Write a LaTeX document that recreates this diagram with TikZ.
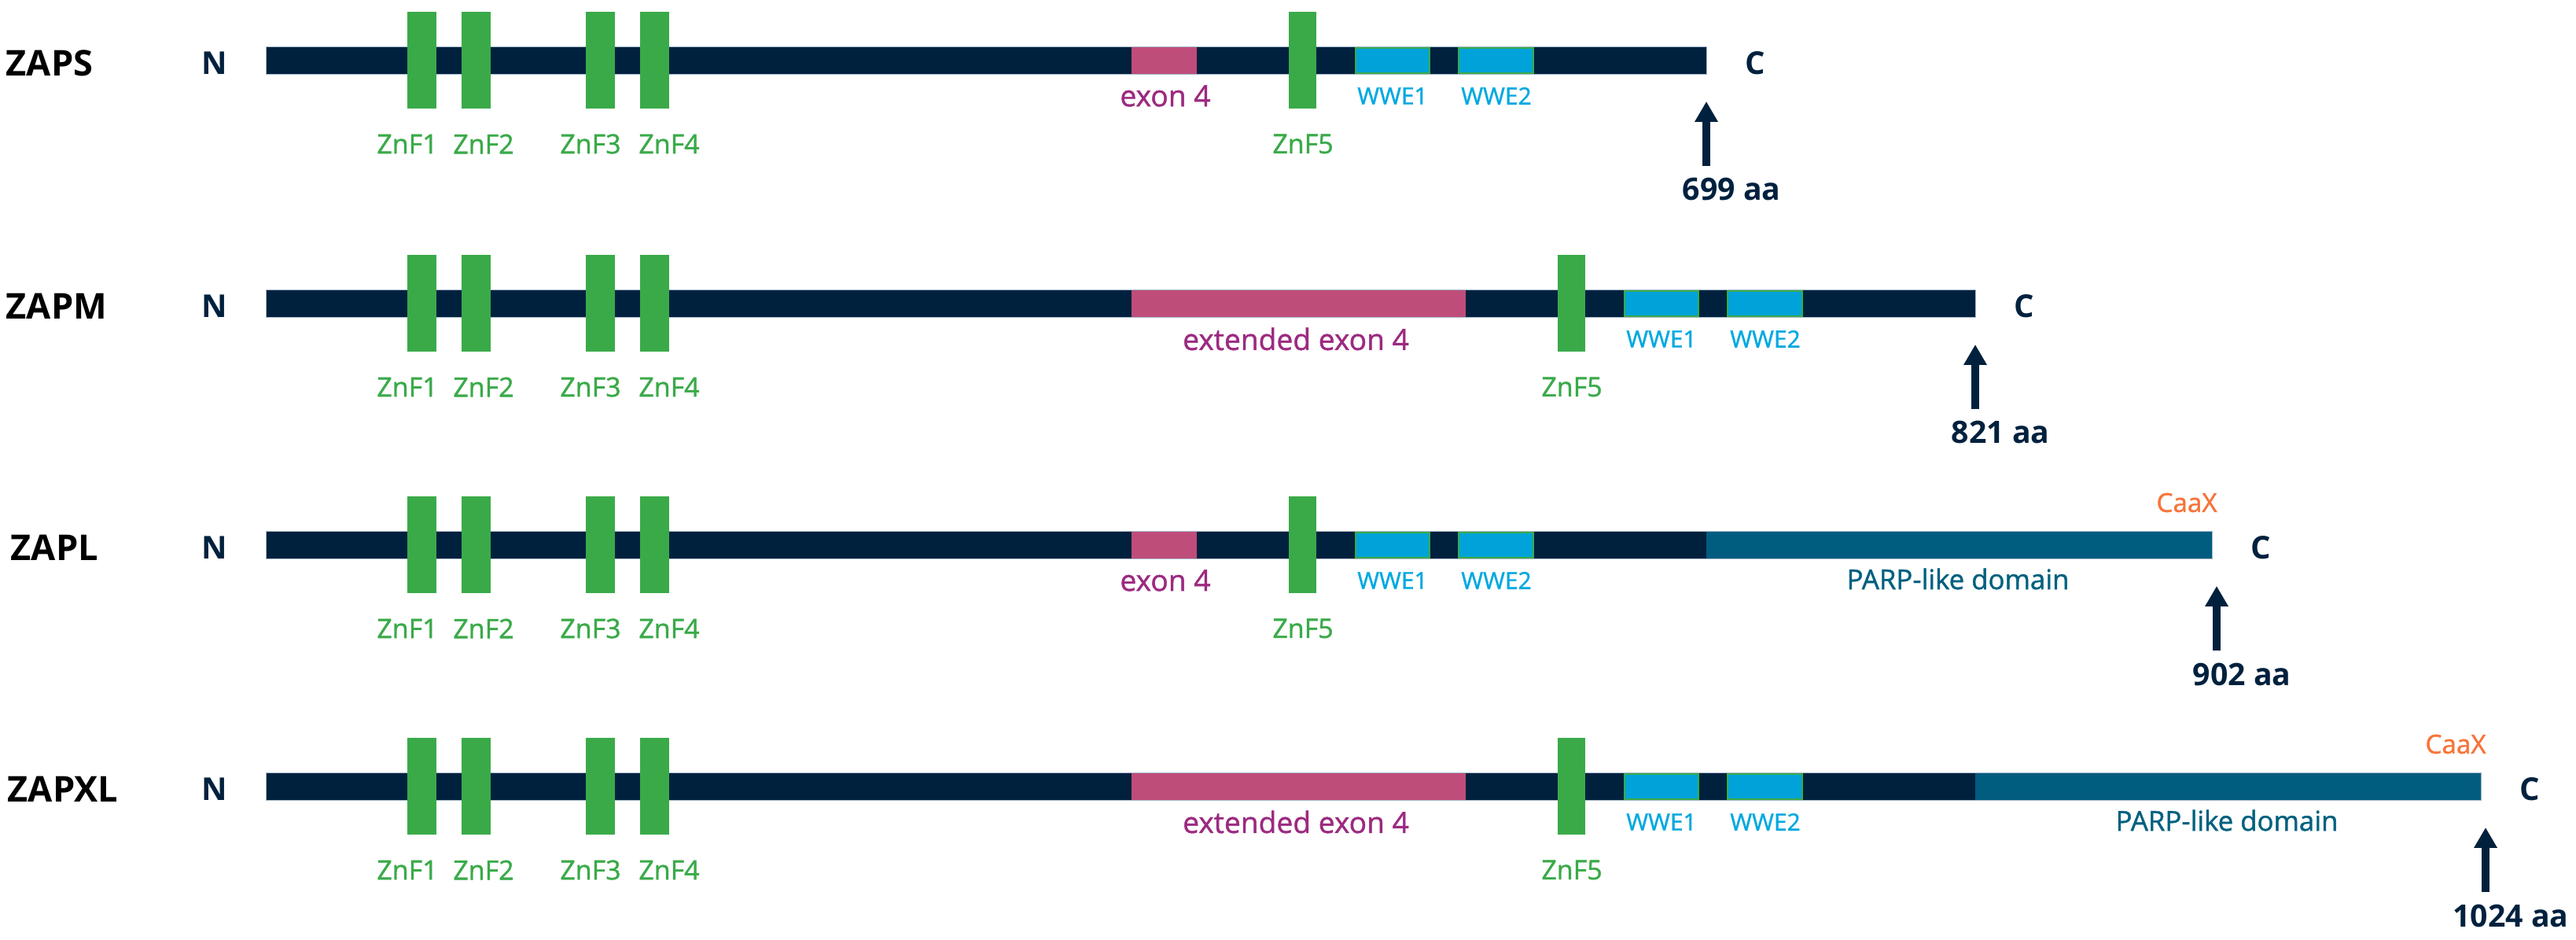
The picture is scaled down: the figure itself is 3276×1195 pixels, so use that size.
\documentclass[tikz,border=0pt]{standalone}
\usepackage{fontspec}
\setmainfont{Open Sans}
\newfontfamily\semif[FakeBold=1.2]{Open Sans}
\usetikzlibrary{arrows.meta}
\definecolor{navy}{HTML}{00213E}
\definecolor{znfc}{HTML}{3AAA49}
\definecolor{exonc}{HTML}{BF4D7A}
\definecolor{exont}{HTML}{9C2A80}
\definecolor{wwec}{HTML}{00A3D9}
\definecolor{wwet}{HTML}{00A8E0}
\definecolor{parpc}{HTML}{005D80}
\definecolor{parpt}{HTML}{00607F}
\definecolor{caaxc}{HTML}{F7743A}
\definecolor{edgec}{HTML}{A8BACB}
\tikzset{
  namelbl/.style={font=\fontsize{11.3}{12}\selectfont\bfseries, text=black, inner sep=0pt},
  endlbl/.style={font=\fontsize{10}{11}\selectfont\bfseries, text=navy, inner sep=0pt},
  aalbl/.style={font=\fontsize{9.8}{11}\selectfont\bfseries, text=navy, inner sep=0pt},
  znflbl/.style={font=\semif\fontsize{8.5}{10}\selectfont, text=znfc, inner sep=0pt},
  exonlbl/.style={font=\semif\fontsize{9.3}{10}\selectfont, text=exont, inner sep=0pt},
  wwelbl/.style={font=\semif\fontsize{7.5}{9}\selectfont, text=wwet, inner sep=0pt},
  parplbl/.style={font=\semif\fontsize{8.7}{10}\selectfont, text=parpt, inner sep=0pt},
  caaxlbl/.style={font=\semif\fontsize{8.3}{10}\selectfont, text=caaxc, inner sep=0pt},
  barfill/.style={fill=navy},
  baredge/.style={draw=edgec, line width=0.5pt},
  parpfill/.style={fill=parpc},
  exonfill/.style={fill=exonc},
  znffill/.style={fill=znfc},
  wwebox/.style={fill=wwec, draw=znfc, line width=0.55pt},
  aarrow/.style={draw=navy, line width=2.3pt, -{Triangle[width=7pt,length=6.5pt]}},
}
\newcommand{\zaprow}[7]{%
  \pgfmathsetmacro\fe{2170+#5+643*#6}%
  \pgfmathsetmacro\ax{\fe+6*#6}%
  \node[namelbl,anchor=west] (#1-name) at (#4,#2+3) {#3};
  \node[endlbl] (#1-N) at (273,#2+3) {N};
  \draw[baredge] (339,#2-17) rectangle (\fe,#2+17);
  \fill[barfill] (339,#2-17) rectangle ({2170+#5},#2+17);
  \ifnum#6=1 \fill[parpfill] ({2170+#5},#2-17) rectangle (\fe,#2+17);\fi
  \fill[exonfill] (1439,#2-17) rectangle ({1522+#5},#2+17);
  \foreach \zx in {518,587,745,814} \fill[znffill] (\zx,#2-62) rectangle +(37,123);
  \fill[znffill] ({1639+#5},#2-62) rectangle +(35,123);
  \filldraw[wwebox] ({1724+#5},#2-16) rectangle ({1818+#5},#2+16);
  \filldraw[wwebox] ({1855+#5},#2-16) rectangle ({1950+#5},#2+16);
  \node[znflbl] (#1-z1) at (518,#2+106) {ZnF1};
  \node[znflbl] (#1-z2) at (615,#2+106) {ZnF2};
  \node[znflbl] (#1-z3) at (751,#2+106) {ZnF3};
  \node[znflbl] (#1-z4) at (851,#2+106) {ZnF4};
  \node[znflbl] (#1-z5) at ({1657+#5},#2+106) {ZnF5};
  \node[wwelbl] (#1-w1) at ({1771+#5},#2+45) {WWE1};
  \node[wwelbl] (#1-w2) at ({1903+#5},#2+45) {WWE2};
  \ifnum#5=0
    \node[exonlbl] (#1-ex) at (1482,#2+45) {exon 4};
  \else
    \node[exonlbl] (#1-ex) at (1648,#2+45) {extended exon 4};
  \fi
  \ifnum#6=1
    \node[parplbl] (#1-parp) at ({2490+#5},#2+43) {PARP-like domain};
    \node[caaxlbl] (#1-caax) at (\fe-32,#2-54) {CaaX};
  \fi
  \node[endlbl] (#1-C) at (\fe+62,#2+3) {C};
  \coordinate (#1-tip) at (\ax,#2+52);
  \coordinate (#1-tail) at (\ax,#2+134);
  \draw[aarrow] (#1-tail) -- (#1-tip);
  \node[aalbl] (#1-aa) at (\ax+32,#2+164) {#7};
}
\begin{document}
\begin{tikzpicture}[x=0.25pt,y=-0.25pt]
\useasboundingbox (0,0) rectangle (3276,1195);
\zaprow{zaps}{77}{ZAPS}{7}{0}{0}{699 aa}
\zaprow{zapm}{386}{ZAPM}{7}{342}{0}{821 aa}
\zaprow{zapl}{693}{ZAPL}{13}{0}{1}{902 aa}
\zaprow{zapxl}{1000}{ZAPXL}{9}{342}{1}{1024 aa}
\end{tikzpicture}
\end{document}
